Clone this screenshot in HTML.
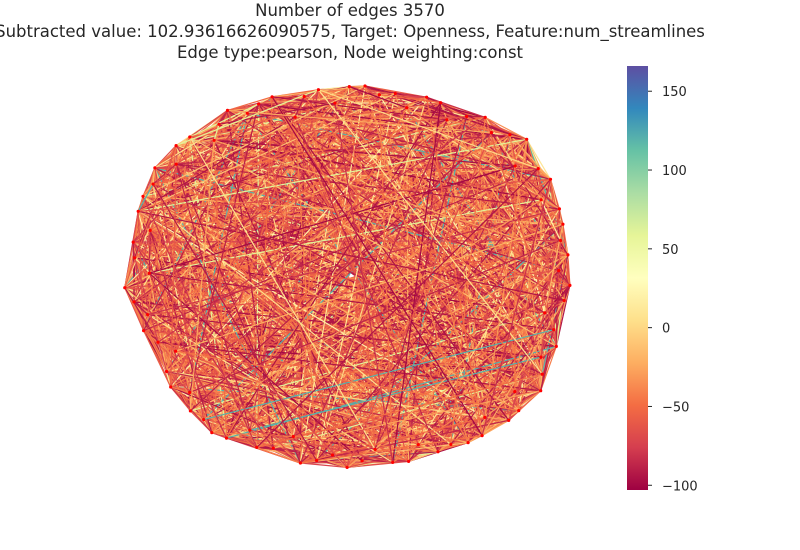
<!DOCTYPE html>
<html><head><meta charset="utf-8"><style>
body{margin:0;background:#fff;width:800px;height:550px;overflow:hidden;font-family:"DejaVu Sans","Liberation Sans",sans-serif}
svg{position:absolute;left:0;top:0}
</style></head><body>
<svg id="chart" width="800" height="550">
<defs><linearGradient id="spec" x1="0" y1="1" x2="0" y2="0">
<stop offset="0" stop-color="#9e0142"/><stop offset="0.1" stop-color="#d53e4f"/><stop offset="0.2" stop-color="#f46d43"/><stop offset="0.3" stop-color="#fdae61"/><stop offset="0.4" stop-color="#fee08b"/><stop offset="0.5" stop-color="#ffffbf"/><stop offset="0.6" stop-color="#e6f598"/><stop offset="0.7" stop-color="#abdda4"/><stop offset="0.8" stop-color="#66c2a5"/><stop offset="0.9" stop-color="#3288bd"/><stop offset="1" stop-color="#5e4fa2"/>
</linearGradient></defs>
<g font-size="16.5" fill="#262626" text-anchor="middle">
<text x="350" y="16">Number of edges 3570</text>
<text x="350" y="37">Subtracted value: 102.93616626090575, Target: Openness, Feature:num_streamlines</text>
<text x="350" y="58">Edge type:pearson, Node weighting:const</text>
</g>
<g id="edges"></g>
<g id="nodes"></g>
<rect x="627" y="66" width="21" height="424" fill="url(#spec)"/>
<g id="cbticks" font-size="13" fill="#262626"></g>
</svg>
<script>
const hull=[[365,86],[398,92],[458,103],[528,140],[552,177],[573,268],[562,330],[534,410],[453,450],[375,470],[290,462],[205,430],[176,398],[126,294],[123,278],[138,212],[152,168],[193,130],[237,105],[310,88]];
const inset=[0,6,2,14,0,3,20,8,0,11,4,0,25,7,2,16,0];
const edgeValues=[-90,-55,-30,-75,-15,-60,-100,-45,10,-80,-50,-25,-92,-62,20,-70,-40,-85,-48,-12,-95,-58,-28,-65,5,-72,-88,-42,-52,60,-35,-38,-66,-96,-22,-82,-50,0,-64,-42,-90,-33,-55,120,-58,-86,-20,-68,-46,-94];
const cbTicks=[-100,-50,0,50,100,150];
const vmin=-103,vmax=166;
const stops=["#9e0142","#d53e4f","#f46d43","#fdae61","#fee08b","#ffffbf","#e6f598","#abdda4","#66c2a5","#3288bd","#5e4fa2"];
function hex(h){return[1,3,5].map(i=>parseInt(h.substr(i,2),16));}
function color(v){let t=Math.max(0,Math.min(1,(v-vmin)/(vmax-vmin)))*10;let i=Math.min(9,Math.floor(t)),f=t-i;const a=hex(stops[i]),b=hex(stops[i+1]);return"rgb("+a.map((x,k)=>Math.round(x+(b[k]-x)*f)).join(",")+")";}
function cbY(v){return 490-(v-vmin)/(vmax-vmin)*424;}
const NS="http://www.w3.org/2000/svg";
let segs=[],tot=0;
for(let i=0;i<hull.length;i++){const a=hull[i],b=hull[(i+1)%hull.length];const l=Math.hypot(b[0]-a[0],b[1]-a[1]);segs.push([a,b,l]);tot+=l;}
const N=85,cx=348,cy=280,nodes=[];
for(let k=0;k<N;k++){let d=k/N*tot;for(const s of segs){if(d<=s[2]){const f=d/s[2];let x=s[0][0]+(s[1][0]-s[0][0])*f,y=s[0][1]+(s[1][1]-s[0][1])*f;const off=inset[k%inset.length];const dx=cx-x,dy=cy-y,dl=Math.hypot(dx,dy);x+=dx/dl*off;y+=dy/dl*off;nodes.push([x,y]);break;}d-=s[2];}}
const list=[];let e=0;
for(let i=0;i<N;i++)for(let j=i+1;j<N;j++){list.push([i,j,edgeValues[(e*7+i)%edgeValues.length],(i*131+j*71+e*17)%997]);e++;}
list.sort((a,b)=>a[3]-b[3]);
const eg=document.getElementById('edges');
list.forEach(([i,j,v])=>{
const l=document.createElementNS(NS,'line');


l.setAttribute('x1',nodes[i][0].toFixed(1));l.setAttribute('y1',nodes[i][1].toFixed(1));l.setAttribute('x2',nodes[j][0].toFixed(1));l.setAttribute('y2',nodes[j][1].toFixed(1));l.setAttribute('stroke',color(v));l.setAttribute('stroke-width','1.2');eg.appendChild(l);});
const ng=document.getElementById('nodes');
nodes.forEach(p=>{const c=document.createElementNS(NS,'circle');


c.setAttribute('cx',p[0].toFixed(1));c.setAttribute('cy',p[1].toFixed(1));c.setAttribute('r','1.6');c.setAttribute('fill','#ff0000');ng.appendChild(c);});
const tg=document.getElementById('cbticks');
cbTicks.forEach(v=>{const y=cbY(v);const ln=document.createElementNS(NS,'line');


ln.setAttribute('x1',648);ln.setAttribute('x2',652);ln.setAttribute('y1',y);ln.setAttribute('y2',y);ln.setAttribute('stroke','#262626');tg.appendChild(ln);
const t=document.createElementNS(NS,'text');


t.setAttribute('x',662);t.setAttribute('y',y+5);t.textContent=v<0?'\u2212'+(-v):String(v);tg.appendChild(t);});
</script>
</body></html>
